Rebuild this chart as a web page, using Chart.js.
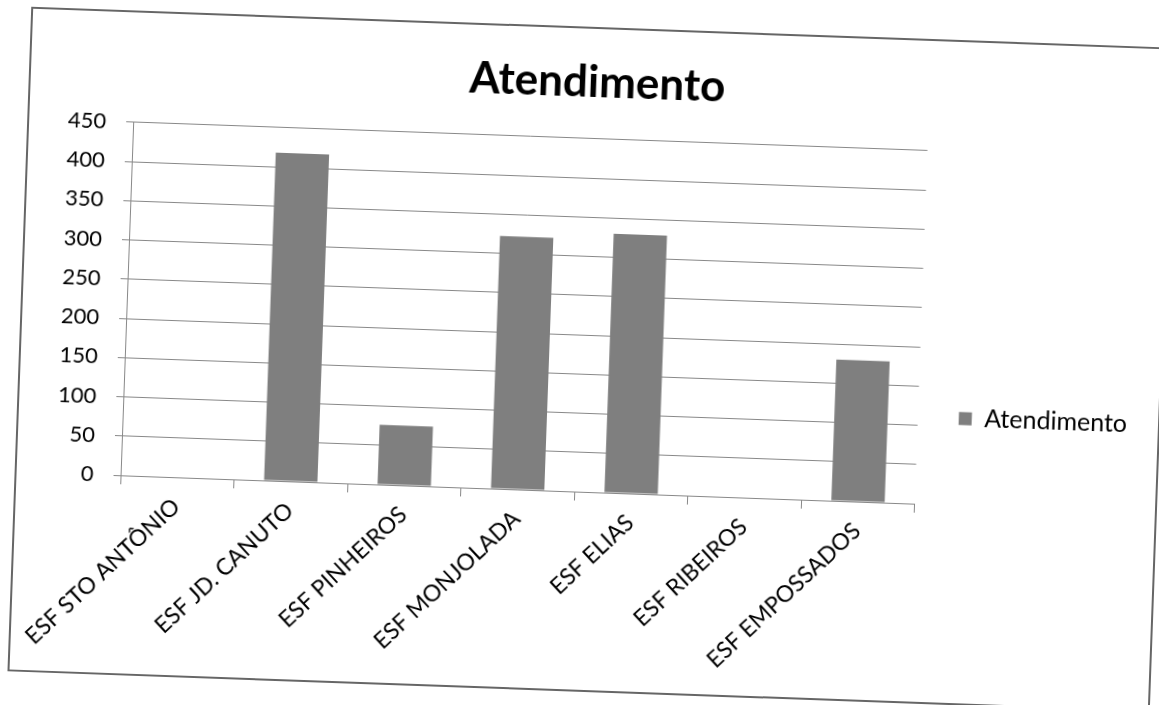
<!DOCTYPE html>
<html>
<head>
<meta charset="utf-8">
<script src="https://cdn.jsdelivr.net/npm/chart.js@4"></script>
<style>
  body { margin: 0; background: #fff; }
  #frame {
    position: absolute; left: 19px; top: 27px;
    width: 1143px; height: 665px; box-sizing: border-box;
    border: 2px solid #666; background: #fff;
    transform: rotate(2.05deg);
  }
</style>
</head>
<body>
<div id="frame"><canvas id="atendChart"></canvas></div>
<script>
// values
var categories = ['ESF STO ANTÔNIO', 'ESF JD. CANUTO', 'ESF PINHEIROS', 'ESF MONJOLADA', 'ESF ELIAS', 'ESF RIBEIROS', 'ESF EMPOSSADOS'];
var atendimento = [0, 418, 76, 322, 330, 0, 180];
var yTicks = [0, 50, 100, 150, 200, 250, 300, 350, 400, 450];

var ctx = document.getElementById('atendChart').getContext('2d');
var chart = new Chart(ctx, {
    type: 'bar',
    data: {
        labels: categories,
        datasets: [{
            label: 'Atendimento',
            data: atendimento,
            backgroundColor: '#7f7f7f',
            borderWidth: 0,
            barPercentage: 0.47,
            categoryPercentage: 1
        }]
    },
    options: {
        responsive: true,
        maintainAspectRatio: false,
        animation: false,
        layout: { padding: { left: 15, right: 21, top: 0, bottom: 0 } },
        plugins: {
            title: {
                display: true,
                text: 'Atendimento',
                color: '#000',
                font: { family: 'Lato', size: 44, weight: 'bold' },
                padding: { top: 27, bottom: 30 }
            },
            legend: {
                display: true,
                position: 'right',
                // empty title only pushes the legend item down a bit
                title: { display: true, text: '', font: { size: 12 }, padding: { top: 0, bottom: 77 } },
                labels: {
                    color: '#000',
                    font: { family: 'Lato', size: 25 },
                    boxWidth: 13,
                    boxHeight: 13,
                    padding: 41
                }
            },
            tooltip: { enabled: false }
        },
        scales: {
            x: {
                grid: { display: true, drawOnChartArea: false, drawTicks: true, tickLength: 9, color: '#888', offset: true },
                border: { color: '#888' },
                ticks: {
                    color: '#000',
                    font: { family: 'Lato', size: 23 },
                    minRotation: 45,
                    maxRotation: 45,
                    padding: 7
                },
                afterFit: function (scale) { scale.height = 198; }
            },
            y: {
                min: 0,
                max: 450,
                afterBuildTicks: function (scale) {
                    scale.ticks = yTicks.map(function (v) { return { value: v }; });
                },
                grid: { color: '#888', drawTicks: true, tickLength: 7 },
                border: { color: '#888' },
                ticks: {
                    color: '#000',
                    font: { family: 'Lato', size: 22 },
                    padding: 20
                },
                afterFit: function (scale) { scale.width = 89; }
            }
        }
    }
});
</script>
</body>
</html>
